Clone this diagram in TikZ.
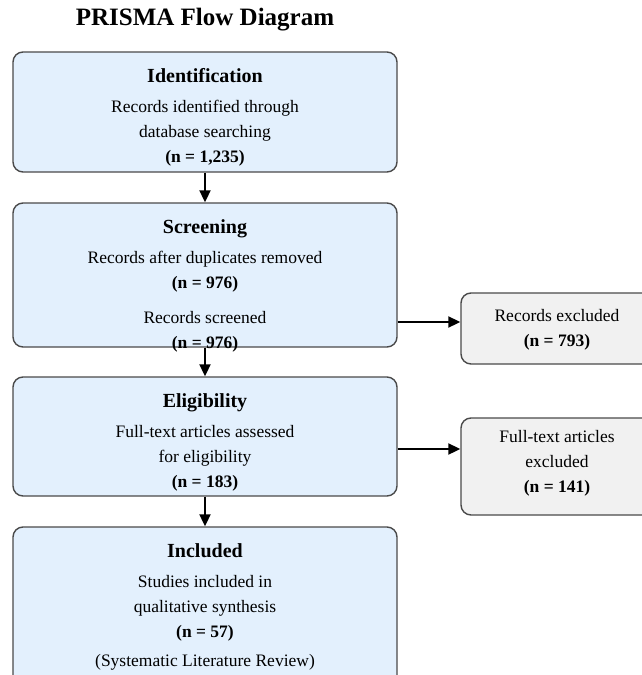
\documentclass[tikz,border=0pt]{standalone}
\usepackage{fontspec}
\setmainfont{Liberation Serif}
\usepackage{tikz}
\usetikzlibrary{arrows.meta,positioning,calc}

\definecolor{stagefill}{HTML}{E3F0FD}
\definecolor{exclfill}{HTML}{F1F1F1}
\definecolor{edgegray}{HTML}{4A4A4A}

\begin{document}
\begin{tikzpicture}[
  x=1pt, y=-1pt,
  font=\fontsize{17.5}{25}\selectfont,
  box/.style={draw=edgegray, line width=1.4pt, rounded corners=10pt, inner sep=0pt},
  stage/.style={box, fill=stagefill, minimum width=384pt},
  excl/.style={box, fill=exclfill, minimum width=192pt},
  txt/.style={align=center, inner sep=0pt, anchor=north},
  arr/.style={-{Triangle[length=12pt, width=11pt]}, line width=2pt}
]
\useasboundingbox (0,0) rectangle (641,675);

\node[font=\fontsize{25}{28}\selectfont\bfseries] (title) at (205,20) {PRISMA Flow Diagram};

% stage boxes
\node[stage, minimum height=120pt] (ident) at (205,112) {};
\node[stage, minimum height=144pt] (scr)   at (205,275) {};
\node[stage, minimum height=119pt] (elig)  at (205,436.5) {};
\node[stage, minimum height=163pt] (incl)  at (205,608.5) {};

% exclusion boxes
\node[excl, minimum height=71pt] (exA) at (557,328.5) {};
\node[excl, minimum height=97pt] (exB) at (557,466.5) {};

% box texts
\node[txt, below=17pt of ident.north] (identT)
  {{\bfseries\fontsize{20}{22}\selectfont Identification}\\[5pt]
   Records identified through\\ database searching\\ \textbf{(n = 1,235)}};
\node[txt, below=17.5pt of scr.north] (scrT)
  {{\bfseries\fontsize{20}{22}\selectfont Screening}\\[5pt]
   Records after duplicates removed\\ \textbf{(n = 976)}\\[10pt]
   Records screened\\ \textbf{(n = 976)}};
\node[txt, below=17pt of elig.north] (eligT)
  {{\bfseries\fontsize{20}{22}\selectfont Eligibility}\\[5pt]
   Full-text articles assessed\\ for eligibility\\ \textbf{(n = 183)}};
\node[txt, below=17pt of incl.north] (inclT)
  {{\bfseries\fontsize{20}{22}\selectfont Included}\\[5pt]
   Studies included in\\ qualitative synthesis\\ \textbf{(n = 57)}\\[4pt]
   (Systematic Literature Review)};
\node[txt, below=17pt of exA.north] (exAT) {Records excluded\\ \textbf{(n = 793)}};
\node[txt, below=13pt of exB.north] (exBT) {Full-text articles\\ excluded\\ \textbf{(n = 141)}};

% flow
\draw[arr] (ident) -- (scr);
\draw[arr] (scr) -- (elig);
\draw[arr] (elig) -- (incl);
\draw[arr] ([yshift=-47pt]scr.east) -- ([yshift=6.5pt]exA.west);
\draw[arr] ([yshift=-12.5pt]elig.east) -- ([yshift=17.5pt]exB.west);
\end{tikzpicture}
\end{document}
